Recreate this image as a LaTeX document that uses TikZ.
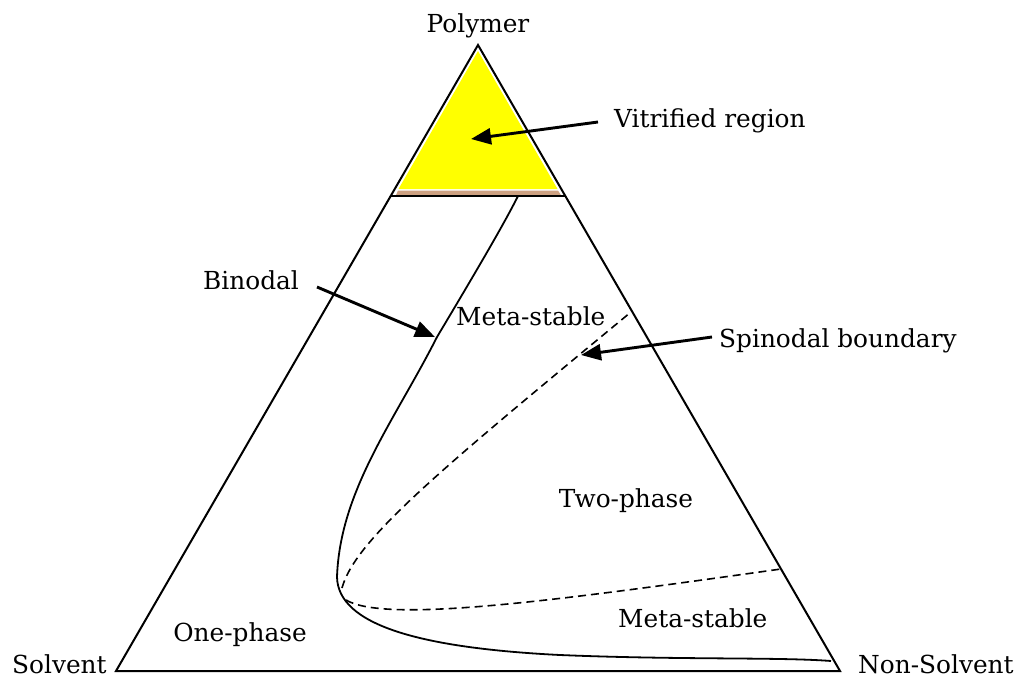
\documentclass[tikz,border=0pt]{standalone}
\usepackage{fontspec}
\setmainfont{DejaVu Serif}
\usetikzlibrary{arrows.meta}
\definecolor{vitfill}{HTML}{FFFF00}
\definecolor{tanstrip}{HTML}{CDA182}
\begin{document}
\begin{tikzpicture}[x=1pt,y=-1pt,
  lbl/.style={font=\fontsize{24.8}{28}\selectfont, inner sep=0pt},
  edge/.style={line width=2pt, line join=miter},
  curve/.style={line width=1.8pt},
  spin/.style={line width=1.6pt, dash pattern=on 8pt off 5pt},
  pointer/.style={line width=2.9pt, -{Triangle[length=20pt,width=16pt]}}]
\useasboundingbox (0,0) rectangle (1016,679);
% vertices
\coordinate (S) at (116,671);
\coordinate (N) at (840,671);
\coordinate (P) at (478,45);
\coordinate (gl) at (390.7,196);
\coordinate (gr) at (565.3,196);
% vitrified region
\fill[vitfill] (478,51) -- (398.5,189) -- (557.5,189) -- cycle;
\fill[tanstrip] (398,190.5) -- (558,190.5) -- (561,195.2) -- (396,195.2) -- cycle;
% triangle
\draw[edge] (S) -- (P) -- (N) -- cycle;
\draw[edge] (gl) -- (gr);
% binodal
\draw[curve] (518,196) .. controls (505,222) and (480,265) .. (437,337)
  .. controls (395,420) and (340,490) .. (337,577)
  .. controls (338,625) and (420,648) .. (560,655)
  .. controls (680,660) and (780,657) .. (831,661);
% spinodal
\draw[spin] (342,588) .. controls (355,540) and (440,470) .. (631,312);
\draw[spin] (346,600) .. controls (386,624) and (560,600) .. (781,569);
% labels
\node[lbl, anchor=base] (poly) at (478,33) {Polymer};
\node[lbl, anchor=base west] (vitr) at (614,128) {Vitrified region};
\node[lbl, anchor=base west] (bino) at (203,289) {Binodal};
\node[lbl, anchor=base west] (ms1) at (456,325) {Meta-stable};
\node[lbl, anchor=base west] (spinl) at (719,347) {Spinodal boundary};
\node[lbl, anchor=base] (two) at (626,507) {Two-phase};
\node[lbl, anchor=base] (one) at (240,641) {One-phase};
\node[lbl, anchor=base west] (ms2) at (618,627) {Meta-stable};
\node[lbl, anchor=base west] (solv) at (12,673) {Solvent};
\node[lbl, anchor=base west] (nons) at (858,673) {Non-Solvent};
% arrows
\coordinate (va) at (598,122);
\coordinate (vb) at (471,139);
\coordinate (ba) at (317,287);
\coordinate (bb) at (435,337);
\coordinate (sa) at (712,337);
\coordinate (sb) at (581,355);
\draw[pointer] (va) -- (vb);
\draw[pointer] (ba) -- (bb);
\draw[pointer] (sa) -- (sb);
\end{tikzpicture}
\end{document}
